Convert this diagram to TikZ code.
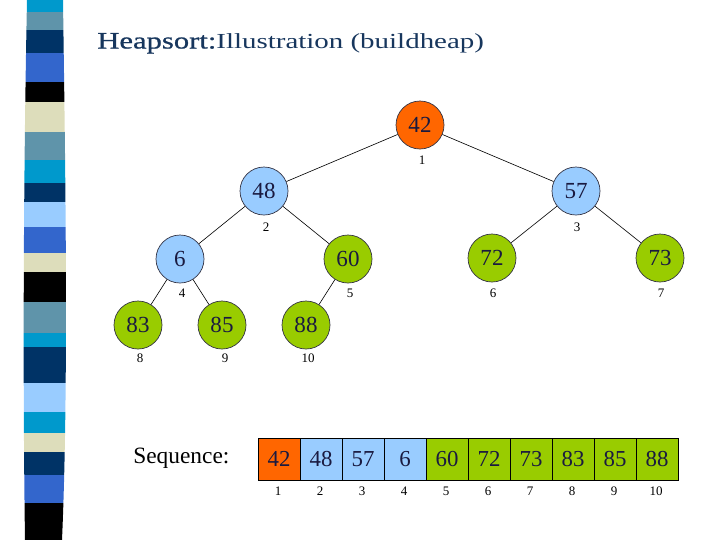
\documentclass[tikz,border=0pt]{standalone}
\usepackage{fontspec}
\setmainfont{Liberation Serif}
\newfontfamily\titlefont[FakeStretch=1.35]{Liberation Serif}
\newfontfamily\titleheadfont[FakeStretch=1.3,FakeBold=0.8]{Liberation Serif}
\definecolor{stcyan}{HTML}{0099CC}
\definecolor{ststeel}{HTML}{5F94AA}
\definecolor{stnavy}{HTML}{003366}
\definecolor{stroyal}{HTML}{3366CC}
\definecolor{stbeige}{HTML}{DDDDBB}
\definecolor{stlight}{HTML}{99CCFF}
\definecolor{heaporange}{HTML}{FF6600}
\definecolor{heapblue}{HTML}{99CCFF}
\definecolor{heapgreen}{HTML}{99CC00}
\definecolor{nodetext}{HTML}{1A1A40}
\definecolor{nodeline}{HTML}{333344}
\definecolor{titlenavy}{HTML}{17365D}

\begin{document}
\begin{tikzpicture}[scale=0.2]
            \tikzstyle{every node}+=[inner sep=0pt]
            \tikzstyle{heapnode}=[circle, draw=nodeline, line width=0.4pt, minimum size=0.96cm, text=nodetext, font=\fontsize{13.1}{15}\selectfont]
            \tikzstyle{cell}=[rectangle, draw=black, line width=0.5pt, minimum width=0.84cm, minimum height=0.84cm, text=nodetext, font=\fontsize{13}{15}\selectfont]
            \tikzstyle{idx}=[font=\fontsize{7.4}{8}\selectfont]
            \tikzstyle{edge}=[black, line width=0.35pt]
            \useasboundingbox (0,0) rectangle (72,-54);
            % stripe on the left
            \begin{scope}
            \clip (2.7,0) .. controls (2.3,-20) and (2.3,-40) .. (2.5,-54) -- (6.2,-54) .. controls (6.9,-38) and (6.5,-15) .. (6.3,0) -- cycle;
            \fill [stcyan] (2,0) rectangle (7,-1.2);
            \fill [ststeel] (2,-1.2) rectangle (7,-3.0);
            \fill [stnavy] (2,-3.0) rectangle (7,-5.3);
            \fill [stroyal] (2,-5.3) rectangle (7,-8.2);
            \fill [black] (2,-8.2) rectangle (7,-10.2);
            \fill [stbeige] (2,-10.2) rectangle (7,-13.2);
            \fill [ststeel] (2,-13.2) rectangle (7,-16.0);
            \fill [stcyan] (2,-16.0) rectangle (7,-18.3);
            \fill [stnavy] (2,-18.3) rectangle (7,-20.2);
            \fill [stlight] (2,-20.2) rectangle (7,-22.7);
            \fill [stroyal] (2,-22.7) rectangle (7,-25.3);
            \fill [stbeige] (2,-25.3) rectangle (7,-27.2);
            \fill [black] (2,-27.2) rectangle (7,-30.2);
            \fill [ststeel] (2,-30.2) rectangle (7,-33.3);
            \fill [stcyan] (2,-33.3) rectangle (7,-34.7);
            \fill [stnavy] (2,-34.7) rectangle (7,-38.3);
            \fill [stlight] (2,-38.3) rectangle (7,-41.2);
            \fill [stcyan] (2,-41.2) rectangle (7,-43.3);
            \fill [stbeige] (2,-43.3) rectangle (7,-45.2);
            \fill [stnavy] (2,-45.2) rectangle (7,-47.5);
            \fill [stroyal] (2,-47.5) rectangle (7,-50.3);
            \fill [black] (2,-50.3) rectangle (7,-54);
            \end{scope}
            % title
            \node [anchor=base west, text=titlenavy] (title) at (9.7,-4.85) {\titleheadfont\fontsize{13.4}{15}\selectfont Heapsort:\titlefont\fontsize{12.2}{14}\selectfont Illustration (buildheap)};
            % tree
            \node [heapnode, fill=heaporange] (n1) at (42.0,-12.5) {42};
            \node [heapnode, fill=heapblue] (n2) at (26.4,-19.1) {48};
            \node [heapnode, fill=heapblue] (n3) at (57.6,-19.1) {57};
            \node [heapnode, fill=heapblue] (n4) at (18.0,-25.9) {6};
            \node [heapnode, fill=heapgreen] (n5) at (34.8,-25.9) {60};
            \node [heapnode, fill=heapgreen] (n6) at (49.2,-25.8) {72};
            \node [heapnode, fill=heapgreen] (n7) at (66.0,-25.8) {73};
            \node [heapnode, fill=heapgreen] (n8) at (13.8,-32.5) {83};
            \node [heapnode, fill=heapgreen] (n9) at (22.2,-32.5) {85};
            \node [heapnode, fill=heapgreen] (n10) at (30.6,-32.5) {88};
            \draw [edge] (n1) -- (n2);
            \draw [edge] (n1) -- (n3);
            \draw [edge] (n2) -- (n4);
            \draw [edge] (n2) -- (n5);
            \draw [edge] (n3) -- (n6);
            \draw [edge] (n3) -- (n7);
            \draw [edge] (n4) -- (n8);
            \draw [edge] (n4) -- (n9);
            \draw [edge] (n5) -- (n10);
            \node [idx] (i1) at (42.2,-16.0) {1};
            \node [idx] (i2) at (26.6,-22.7) {2};
            \node [idx] (i3) at (57.7,-22.7) {3};
            \node [idx] (i4) at (18.2,-29.3) {4};
            \node [idx] (i5) at (35.0,-29.3) {5};
            \node [idx] (i6) at (49.3,-29.3) {6};
            \node [idx] (i7) at (66.1,-29.3) {7};
            \node [idx] (i8) at (14.0,-35.8) {8};
            \node [idx] (i9) at (22.5,-35.8) {9};
            \node [idx] (i10) at (30.8,-35.8) {10};
            % sequence
            \node [anchor=base west, font=\fontsize{13.3}{15}\selectfont] (seq) at (13.3,-46.3) {Sequence:};
            \node [cell, fill=heaporange] (a1) at (27.9,-45.9) {42};
            \node [cell, fill=heapblue] (a2) at (32.1,-45.9) {48};
            \node [cell, fill=heapblue] (a3) at (36.3,-45.9) {57};
            \node [cell, fill=heapblue] (a4) at (40.5,-45.9) {6};
            \node [cell, fill=heapgreen] (a5) at (44.7,-45.9) {60};
            \node [cell, fill=heapgreen] (a6) at (48.9,-45.9) {72};
            \node [cell, fill=heapgreen] (a7) at (53.1,-45.9) {73};
            \node [cell, fill=heapgreen] (a8) at (57.3,-45.9) {83};
            \node [cell, fill=heapgreen] (a9) at (61.5,-45.9) {85};
            \node [cell, fill=heapgreen] (a10) at (65.7,-45.9) {88};
            \node [idx] (j1) at (27.8,-49.1) {1};
            \node [idx] (j2) at (32.0,-49.1) {2};
            \node [idx] (j3) at (36.2,-49.1) {3};
            \node [idx] (j4) at (40.4,-49.1) {4};
            \node [idx] (j5) at (44.6,-49.1) {5};
            \node [idx] (j6) at (48.8,-49.1) {6};
            \node [idx] (j7) at (53.0,-49.1) {7};
            \node [idx] (j8) at (57.2,-49.1) {8};
            \node [idx] (j9) at (61.4,-49.1) {9};
            \node [idx] (j10) at (65.6,-49.1) {10};
        \end{tikzpicture}
\end{document}
